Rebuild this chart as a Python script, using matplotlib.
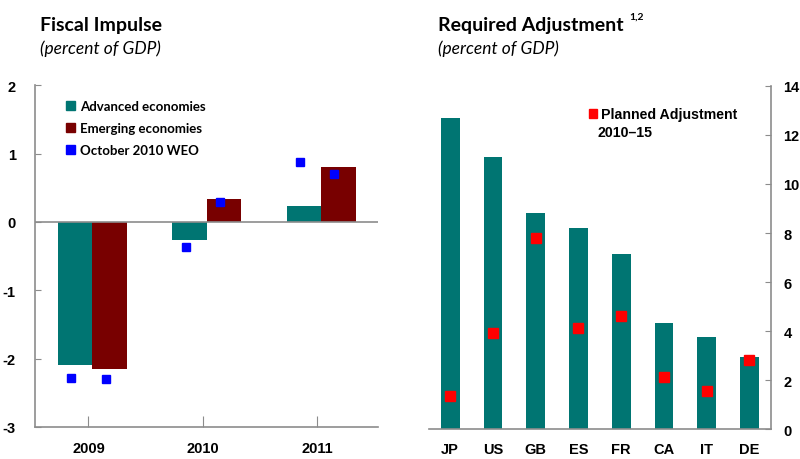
import numpy as np
import matplotlib.pyplot as plt
from matplotlib.patches import Patch

# left panel data
years = ["2009", "2010", "2011"]
advanced = [-2.10, -0.26, 0.23]
emerging = [-2.15, 0.34, 0.80]
weo_adv = [-2.28, -0.37, 0.87]
weo_emg = [-2.30, 0.29, 0.70]

# right panel data
countries = ["JP", "US", "GB", "ES", "FR", "CA", "IT", "DE"]
required = [12.7, 11.1, 8.8, 8.2, 7.15, 4.33, 3.76, 2.94]
planned = [1.35, 3.92, 7.8, 4.12, 4.62, 2.13, 1.55, 2.83]

teal = "#007572"
darkred = "#780000"
gray = "#8c8c8c"

plt.rcParams["font.family"] = ["Liberation Sans", "DejaVu Sans"]
plt.rcParams["axes.unicode_minus"] = False

fig = plt.figure(figsize=(8, 4.6), dpi=100)

# ---- left panel ----
ax1 = fig.add_axes([0.044, 0.0696, 0.429, 0.743])
x = np.arange(len(years))
w = 0.3
ax1.bar(x - w / 2, advanced, w, color=teal)
ax1.bar(x + w / 2, emerging, w, color=darkred)
ax1.plot(x - w / 2 - 0.035, weo_adv, "s", color="#0000ff", ms=6, ls="none")
ax1.plot(x + w / 2 - 0.035, weo_emg, "s", color="#0000ff", ms=6, ls="none")
ax1.axhline(0, color=gray, lw=1.2)
ax1.set_xlim(-0.5, 2.5)
ax1.set_ylim(-3, 2)
ax1.set_yticks(range(-3, 3))
ax1.set_xticks(x - 0.035)
ax1.set_xticklabels(years)
for s in ["top", "right"]:
    ax1.spines[s].set_visible(False)
for s in ["left", "bottom"]:
    ax1.spines[s].set_color(gray)
    ax1.spines[s].set_linewidth(1.2)
ax1.tick_params(axis="y", direction="in", length=4, color=gray, pad=14)
ax1.tick_params(axis="x", direction="in", length=8, color=gray, pad=10)
for t in ax1.get_xticklabels() + ax1.get_yticklabels():
    t.set_fontweight("bold")
    t.set_fontsize(10.5)

handles = [Patch(color=teal), Patch(color=darkred), Patch(color="#0000ff")]
labels = ["Advanced economies", "Emerging economies", "October 2010 WEO"]
ax1.legend(handles, labels, loc="upper left", bbox_to_anchor=(0.055, 0.99),
           frameon=False, handlelength=0.7, handleheight=0.7,
           handletextpad=0.35, labelspacing=0.75,
           prop={"family": "Lato", "weight": "bold", "size": 9.5})

# ---- right panel ----
ax2 = fig.add_axes([0.536, 0.065, 0.4275, 0.746])
xc = np.arange(len(countries))
ax2.bar(xc, required, 0.44, color=teal)
ax2.plot(xc, planned, "s", color="#ff0000", ms=6.5, ls="none")
ax2.set_xlim(-0.5, 7.5)
ax2.set_ylim(0, 14)
ax2.set_yticks(range(0, 15, 2))
ax2.set_xticks(xc)
ax2.set_xticklabels(countries)
ax2.yaxis.tick_right()
for s in ["top", "left"]:
    ax2.spines[s].set_visible(False)
for s in ["right", "bottom"]:
    ax2.spines[s].set_color(gray)
    ax2.spines[s].set_linewidth(1.2)
ax2.tick_params(axis="y", direction="in", length=4, color=gray, pad=9)
ax2.tick_params(axis="x", length=0, pad=9)
for t in ax2.get_xticklabels() + ax2.get_yticklabels():
    t.set_fontweight("bold")
    t.set_fontsize(10.5)

ax2.legend([Patch(color="#ff0000")], ["Planned Adjustment"],
           loc="upper left", bbox_to_anchor=(0.43, 0.975), frameon=False,
           handlelength=0.6, handleheight=0.6, handletextpad=0.3,
           prop={"weight": "bold", "size": 10.2})
ax2.text(0.494, 0.866, "2010\u201315", transform=ax2.transAxes,
         fontsize=10.2, weight="bold", va="center")

# ---- titles ----
fig.text(0.05, 0.945, "Fiscal Impulse", family="Lato", weight="bold",
         fontsize=14, va="center")
fig.text(0.05, 0.895, "(percent of GDP)", family="Lato", style="italic",
         fontsize=12.5, va="center")
fig.text(0.5475, 0.945, "Required Adjustment", family="Lato", weight="bold",
         fontsize=14, va="center")
fig.text(0.787, 0.962, "1,2", family="Lato", weight="bold", fontsize=7.5,
         va="center")
fig.text(0.5475, 0.895, "(percent of GDP)", family="Lato", style="italic",
         fontsize=12.5, va="center")

fig.savefig("out.png", dpi=100)
